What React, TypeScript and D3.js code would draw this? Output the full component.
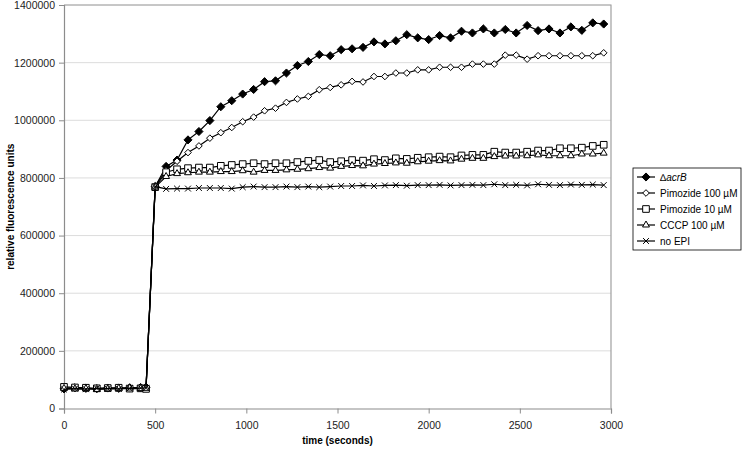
import { useEffect, useRef } from 'react';
import * as d3 from 'd3';

// sample times (s)
const times = [0, 60, 120, 180, 240, 300, 360, 420, 450, 500, 560, 620, 680, 740, 800, 860, 920, 980, 1040, 1100,
  1160, 1220, 1280, 1340, 1400, 1460, 1520, 1580, 1640, 1700, 1760, 1820, 1880, 1940, 2000, 2060, 2120, 2180,
  2240, 2300, 2360, 2420, 2480, 2540, 2600, 2660, 2720, 2780, 2840, 2900, 2960];

const acrB = [68000, 72000, 70000, 69000, 71000, 70000, 72000, 73000, 74000, 770000, 840000, 862000, 932000, 961000,
  999000, 1047000, 1068000, 1091000, 1107000, 1134000, 1137000, 1164000, 1190000, 1204000, 1228000, 1224000,
  1245000, 1248000, 1253000, 1272000, 1265000, 1276000, 1297000, 1286000, 1280000, 1294000, 1286000, 1309000,
  1303000, 1317000, 1303000, 1315000, 1303000, 1329000, 1311000, 1317000, 1303000, 1324000, 1312000, 1338000, 1334000];

const pim100 = [72000, 70000, 71000, 68000, 70000, 71000, 70000, 72000, 73000, 772000, 826000, 858000, 888000, 911000,
  938000, 957000, 975000, 995000, 1011000, 1033000, 1042000, 1062000, 1074000, 1083000, 1106000, 1114000,
  1123000, 1135000, 1133000, 1152000, 1152000, 1164000, 1164000, 1175000, 1175000, 1184000, 1184000, 1184000,
  1195000, 1195000, 1195000, 1226000, 1226000, 1212000, 1224000, 1224000, 1224000, 1224000, 1224000, 1224000, 1234000];

const pim10 = [75000, 73000, 72000, 70000, 71000, 72000, 69000, 70000, 68000, 768000, 820000, 830000, 834000, 836000,
  836000, 842000, 845000, 848000, 851000, 848000, 851000, 851000, 855000, 859000, 862000, 855000, 858000,
  862000, 860000, 865000, 862000, 868000, 866000, 870000, 872000, 874000, 872000, 878000, 880000, 880000,
  891000, 888000, 888000, 891000, 895000, 895000, 903000, 903000, 905000, 911000, 915000];

const cccp = [70000, 68000, 69000, 66000, 68000, 70000, 71000, 69000, 70000, 768000, 805000, 815000, 818000, 820000,
  820000, 822000, 822000, 825000, 820000, 826000, 826000, 828000, 830000, 832000, 836000, 834000, 840000,
  843000, 842000, 848000, 850000, 852000, 851000, 856000, 858000, 860000, 859000, 865000, 868000, 868000,
  874000, 876000, 876000, 877000, 880000, 877000, 877000, 877000, 883000, 883000, 886000];

const noEpi = [66000, 69000, 67000, 70000, 69000, 68000, 70000, 71000, 72000, 770000, 762000, 763000, 763000, 765000,
  765000, 765000, 763000, 768000, 770000, 768000, 768000, 770000, 768000, 770000, 768000, 770000, 772000,
  772000, 774000, 772000, 774000, 775000, 773000, 775000, 775000, 776000, 774000, 775000, 776000, 775000,
  778000, 775000, 776000, 774000, 778000, 776000, 775000, 777000, 776000, 777000, 775000];

const xTicks = [0, 500, 1000, 1500, 2000, 2500, 3000];
const yTicks = [0, 200000, 400000, 600000, 800000, 1000000, 1200000, 1400000];

const series = [
  { name: 'acrB', values: acrB, symbol: d3.symbolDiamond2, size: 42, fill: '#000' },
  { name: 'Pimozide 100 µM', values: pim100, symbol: d3.symbolDiamond2, size: 28, fill: '#fff' },
  { name: 'Pimozide 10 µM', values: pim10, symbol: d3.symbolSquare2, size: 56, fill: '#fff' },
  { name: 'CCCP 100 µM', values: cccp, symbol: d3.symbolTriangle2, size: 34, fill: '#fff' },
  { name: 'no EPI', values: noEpi, symbol: d3.symbolX, size: 24, fill: 'none' },
];

const App = () => {
  const svgRef = useRef<SVGSVGElement>(null);

  useEffect(() => {
    if (!svgRef.current) return;
    const svg = d3.select(svgRef.current);
    svg.selectAll('*').remove();

    const left = 64, right = 611, top = 5, bottom = 408.5;
    const x = d3.scaleLinear().domain([0, 3000]).range([left, right]);
    const y = d3.scaleLinear().domain([0, 1400000]).range([bottom, top]);
    const font = 'Liberation Sans, Arial, sans-serif';

    // gridlines
    svg.append('g').selectAll('line').data(yTicks.slice(1)).join('line')
      .attr('x1', left).attr('x2', right)
      .attr('y1', d => y(d)).attr('y2', d => y(d))
      .attr('stroke', '#dcdcdc').attr('stroke-width', 1);

    // plot border (top/right)
    svg.append('path')
      .attr('d', `M${left},${top}H${right}V${bottom}`)
      .attr('fill', 'none').attr('stroke', '#a0a0a0').attr('stroke-width', 1.2);

    // axes
    const yAxis = svg.append('g').attr('transform', `translate(${left},0)`)
      .call(d3.axisLeft(y).tickValues(yTicks).tickSize(5).tickPadding(4).tickFormat(d3.format('d')));
    const xAxis = svg.append('g').attr('transform', `translate(0,${bottom})`)
      .call(d3.axisBottom(x).tickValues(xTicks).tickSize(5).tickPadding(8).tickFormat(d3.format('d')));
    [yAxis, xAxis].forEach(a => {
      a.select('.domain').attr('stroke', '#8c8c8c').attr('stroke-width', 1.2);
      a.selectAll('.tick line').attr('stroke', '#8c8c8c');
      a.selectAll('text').attr('font-family', font).attr('font-size', 10.5).attr('fill', '#222');
    });

    // axis titles
    svg.append('text')
      .attr('x', (left + right) / 2).attr('y', 444)
      .attr('text-anchor', 'middle').attr('font-family', font).attr('font-size', 10)
      .attr('font-weight', 'bold').text('time (seconds)');
    svg.append('text')
      .attr('transform', `translate(14,${(top + bottom) / 2}) rotate(-90)`)
      .attr('text-anchor', 'middle').attr('font-family', font).attr('font-size', 10)
      .attr('font-weight', 'bold').text('relative fluorescence units');

    const line = d3.line<number>().x((_, i) => x(times[i])).y(d => y(d));

    series.forEach(s => {
      const g = svg.append('g');
      g.append('path').datum(s.values).attr('d', line)
        .attr('fill', 'none').attr('stroke', '#000').attr('stroke-width', 1.2);
      g.selectAll('path.m').data(s.values).join('path').attr('class', 'm')
        .attr('transform', (d, i) => `translate(${x(times[i])},${y(d)})`)
        .attr('d', d3.symbol(s.symbol, s.size)())
        .attr('fill', s.fill).attr('stroke', '#000').attr('stroke-width', 1);
    });

    // legend
    const lg = svg.append('g').attr('transform', 'translate(633,168)');
    lg.append('rect').attr('width', 108).attr('height', 82)
      .attr('fill', '#fff').attr('stroke', '#000').attr('stroke-width', 0.8);
    series.forEach((s, i) => {
      const row = lg.append('g').attr('transform', `translate(0,${9 + i * 16})`);
      row.append('line').attr('x1', 4).attr('x2', 22).attr('stroke', '#000').attr('stroke-width', 1.2);
      row.append('path').attr('transform', 'translate(13,0)')
        .attr('d', d3.symbol(s.symbol, s.size)())
        .attr('fill', s.fill).attr('stroke', '#000').attr('stroke-width', 1);
      const t = row.append('text').attr('x', 27).attr('y', 3.5)
        .attr('font-family', font).attr('font-size', 10).attr('fill', '#000');
      if (i === 0) {
        t.append('tspan').text('∆');
        t.append('tspan').attr('font-style', 'italic').text('acrB');
      } else {
        t.text(s.name);
      }
    });
  }, []);

  return (
    <svg ref={svgRef} width={746} height={449}
      style={{ position: 'absolute', left: 0, top: 0, background: '#fff' }} />
  );
};

export default App;
